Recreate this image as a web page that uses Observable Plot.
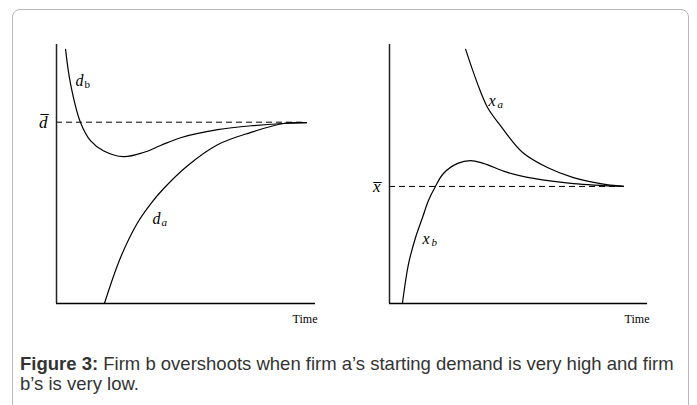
<!DOCTYPE html>
<html>
<head>
<meta charset="utf-8">
<script src="https://cdn.jsdelivr.net/npm/d3@7"></script>
<script src="https://cdn.jsdelivr.net/npm/@observablehq/plot@0.6"></script>
<style>
  html, body { margin: 0; padding: 0; background: #fff; }
  #wrap { position: relative; width: 697px; height: 405px; overflow: hidden; }
  #frame { position: absolute; left: 12px; top: 9px; width: 677px; height: 430px;
           border: 1.5px solid #b8b8b8; border-radius: 8px; box-sizing: border-box; }
  .panel { position: absolute; top: 0; }
  #caption { position: absolute; left: 20px; top: 354px; white-space: nowrap;
             font-family: "Liberation Sans", Arial, sans-serif; font-size: 18.5px;
             line-height: 20px; color: #333; }
  #caption b { font-weight: bold; }
</style>
</head>
<body>
<div id="wrap">
  <div id="frame"></div>
  <div id="left" class="panel" style="left:0px"></div>
  <div id="right" class="panel" style="left:340px"></div>
  <div id="caption"><b>Figure 3:</b> Firm b overshoots when firm a’s starting demand is very high and firm<br>b’s is very low.</div>
</div>
<script>
// ---- Data (time on x, level on y; arbitrary units 0..100) ----
const dBar = 70;
const dBarEnd = 96.5;
const dbTime  = [3.5, 5.4, 9.3, 13.1, 18.1, 25.9, 33.6, 40.2, 47.9, 62.2, 76.1, 87.6, 96.5];
const dbValue = [98.1, 84.9, 69.8, 62.9, 59.0, 56.7, 58.3, 61.0, 64.0, 67.1, 68.7, 69.5, 69.8];
const daTime  = [18.5, 24.7, 31.3, 36.3, 41.3, 50.6, 62.2, 74.9, 87.6, 96.5];
const daValue = [0, 17.7, 31.2, 38.4, 44.3, 53.2, 61.3, 66.0, 69.5, 69.8];

const xBar = 45.2;
const xBarEnd = 90.7;
const xaTime  = [29.5, 34.1, 38.0, 43.0, 51.6, 61.2, 71.3, 81.8, 90.7];
const xaValue = [98.1, 84.9, 75.7, 68.7, 58.3, 52.5, 48.6, 46.3, 45.2];
const xbTime  = [5.0, 7.4, 10.1, 12.8, 15.1, 17.8, 20.9, 26.4, 31.4, 36.4, 45.7, 55.8, 71.3, 90.7];
const xbValue = [0, 15.4, 25.5, 33.2, 39.8, 45.2, 50.2, 54.1, 55.2, 54.1, 50.6, 48.3, 46.3, 45.2];

const leftLabels  = [{x: 7.3, y: 86, main: "d", sub: "b", subItalic: false},
                     {x: 37.1, y: 32.7, main: "d", sub: "a", subItalic: true}];
const rightLabels = [{x: 38.4, y: 78.4, main: "x", sub: "a", subItalic: true},
                     {x: 12.8, y: 25.1, main: "x", sub: "b", subItalic: true}];
const xAxisLabel = "Time";

const zip = (t, v) => t.map((d, i) => ({t: d, v: v[i]}));

function panel({series, bar, barEnd, barLabel, labels, width, marginLeft, marginRight}) {
  const serif = "Liberation Serif, Times New Roman, serif";
  return Plot.plot({
    width, height: 330,
    marginLeft, marginRight, marginTop: 44, marginBottom: 27,
    style: {fontFamily: serif, color: "#000", background: "transparent", overflow: "visible"},
    x: {domain: [0, 100], axis: null},
    y: {domain: [0, 100]},
    marks: [
      Plot.axisY({ticks: [bar], tickSize: 0, tickPadding: 9, tickFormat: () => barLabel,
                  fontSize: 17, fontStyle: "italic", label: null}),
      Plot.text([xAxisLabel], {frameAnchor: "bottom-right", text: d => d, textAnchor: "end",
                  lineAnchor: "middle", dx: 2, dy: 16, fontSize: 12, fill: "#000"}),
      Plot.ruleY([bar], {x1: 0, x2: barEnd, stroke: "#000", strokeWidth: 1, strokeDasharray: "6,4"}),
      ...series.map(s => Plot.line(s, {x: "t", y: "v", curve: "catmull-rom", stroke: "#000", strokeWidth: 1.2})),
      Plot.ruleX([0], {stroke: "#222", strokeWidth: 1.5}),
      Plot.ruleY([0], {stroke: "#000", strokeWidth: 1.5}),
      Plot.text(labels, {x: "x", y: "y", text: "main", textAnchor: "start", fontSize: 16, fontStyle: "italic", fill: "#000"}),
      Plot.text(labels.filter(d => d.subItalic), {x: "x", y: "y", text: "sub", textAnchor: "start", dx: 9, dy: 4, fontSize: 11, fontStyle: "italic", fill: "#000"}),
      Plot.text(labels.filter(d => !d.subItalic), {x: "x", y: "y", text: "sub", textAnchor: "start", dx: 9, dy: 4, fontSize: 11, fill: "#000"})
    ]
  });
}

document.getElementById("left").appendChild(panel({
  series: [zip(dbTime, dbValue), zip(daTime, daValue)],
  bar: dBar, barEnd: dBarEnd, barLabel: "d\u0305", labels: leftLabels,
  width: 345, marginLeft: 56, marginRight: 30
}));
document.getElementById("right").appendChild(panel({
  series: [zip(xaTime, xaValue), zip(xbTime, xbValue)],
  bar: xBar, barEnd: xBarEnd, barLabel: "x\u0305", labels: rightLabels,
  width: 357, marginLeft: 49, marginRight: 50
}));
</script>
</body>
</html>
